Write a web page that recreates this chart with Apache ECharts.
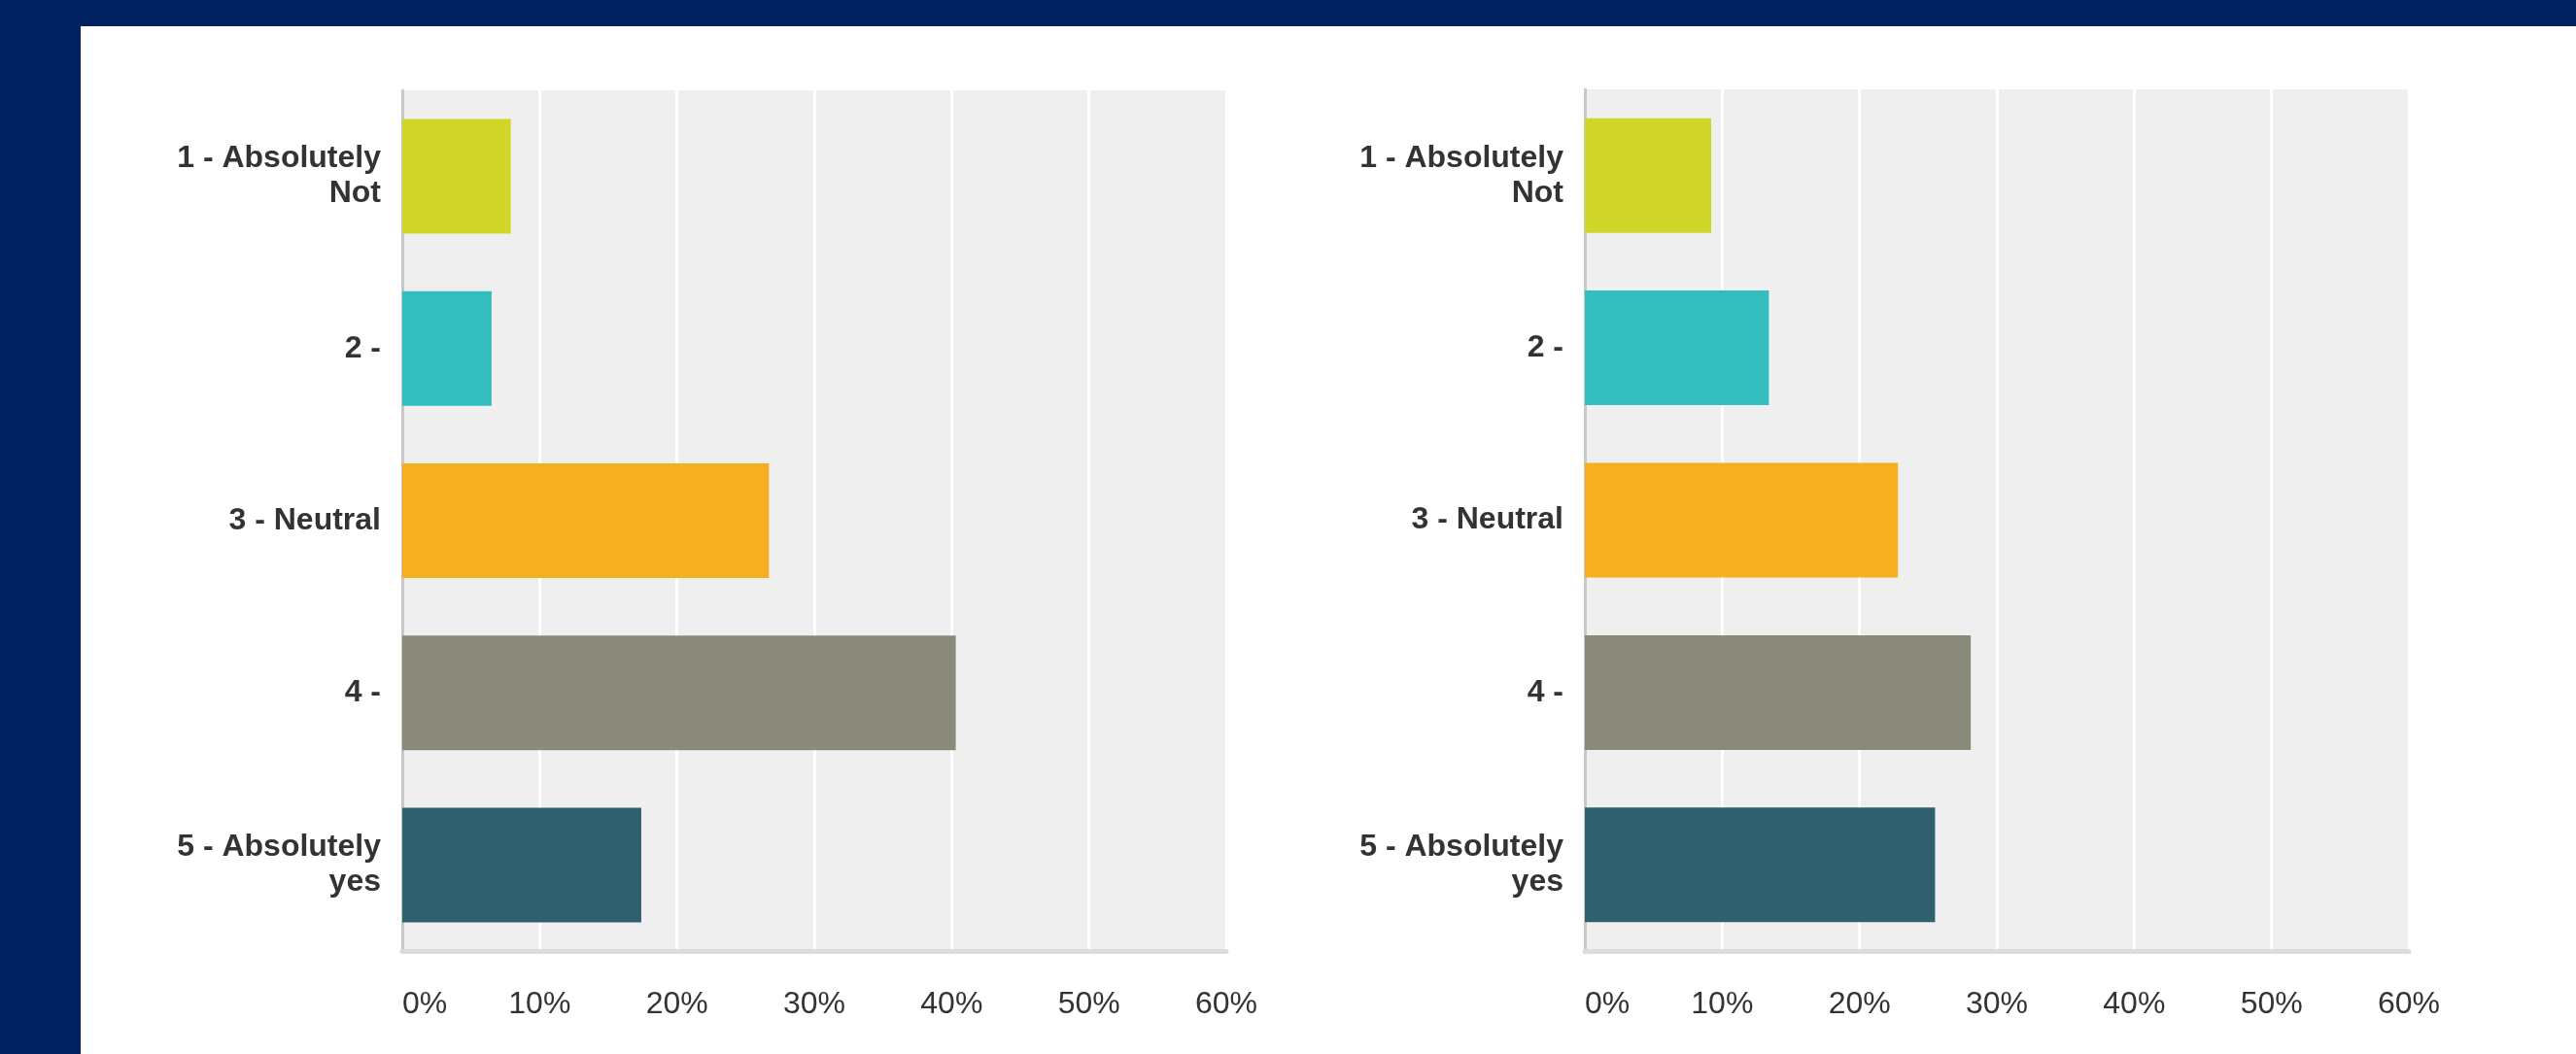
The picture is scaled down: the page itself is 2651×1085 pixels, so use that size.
<!DOCTYPE html>
<html>
<head>
<meta charset="utf-8">
<script src="https://cdn.jsdelivr.net/npm/echarts@6/dist/echarts.min.js"></script>
<style>
  html, body { margin: 0; padding: 0; width: 2651px; height: 1085px; background: #00205f; overflow: hidden; }
  #panel { position: absolute; left: 83px; top: 27px; right: 0; bottom: 0; background: #ffffff; }
  #chart { position: absolute; left: 0; top: 0; width: 2651px; height: 1085px; }
</style>
</head>
<body>
<div id="panel"></div>
<div id="chart"></div>
<script>
const categories = ["1 - Absolutely\nNot", "2 -", "3 - Neutral", "4 -", "5 - Absolutely\nyes"];
const leftValues = [7.9, 6.5, 26.7, 40.3, 17.4];
const rightValues = [9.2, 13.4, 22.8, 28.1, 25.5];
const barColors = ["#cfd628", "#33bdbf", "#f6af1f", "#898a7a", "#2e606d"];
const axisMax = 60;
const axisStep = 10;

const chart = echarts.init(document.getElementById('chart'), null, { renderer: 'canvas' });

function makeXAxis(gridIndex) {
  return {
    gridIndex: gridIndex,
    type: 'value',
    min: 0,
    max: axisMax,
    interval: axisStep,
    axisLine: { show: true, lineStyle: { color: '#dcdcdc', width: 5 } },
    axisTick: { show: false },
    splitLine: { show: true, lineStyle: { color: '#ffffff', width: 3 } },
    axisLabel: {
      formatter: '{value}%',
      fontFamily: 'Liberation Sans, Arial, sans-serif',
      fontSize: 32,
      color: '#333333',
      margin: 39,
      alignMinLabel: 'left'
    }
  };
}
function makeYAxis(gridIndex) {
  return {
    gridIndex: gridIndex,
    type: 'category',
    inverse: true,
    data: categories,
    axisLine: { show: true, lineStyle: { color: '#c8c8c8', width: 3 } },
    axisTick: { show: false },
    splitLine: { show: false },
    axisLabel: {
      fontFamily: 'Liberation Sans, Arial, sans-serif',
      fontWeight: 'bold',
      fontSize: 32,
      lineHeight: 36,
      color: '#333333',
      margin: 22,
      align: 'right'
    }
  };
}
function makeSeries(idx, values) {
  return {
    type: 'bar',
    xAxisIndex: idx,
    yAxisIndex: idx,
    barWidth: 118,
    data: values.map((v, i) => ({ value: v, itemStyle: { color: barColors[i] } })),
    silent: true
  };
}

chart.setOption({
  animation: false,
  backgroundColor: 'transparent',
  grid: [
    { left: 414, top: 93, width: 848, height: 886, show: true, backgroundColor: '#efefef', borderWidth: 0, containLabel: false },
    { left: 1631, top: 92, width: 848, height: 887, show: true, backgroundColor: '#efefef', borderWidth: 0, containLabel: false }
  ],
  xAxis: [makeXAxis(0), makeXAxis(1)],
  yAxis: [makeYAxis(0), makeYAxis(1)],
  series: [makeSeries(0, leftValues), makeSeries(1, rightValues)]
});
</script>
</body>
</html>
